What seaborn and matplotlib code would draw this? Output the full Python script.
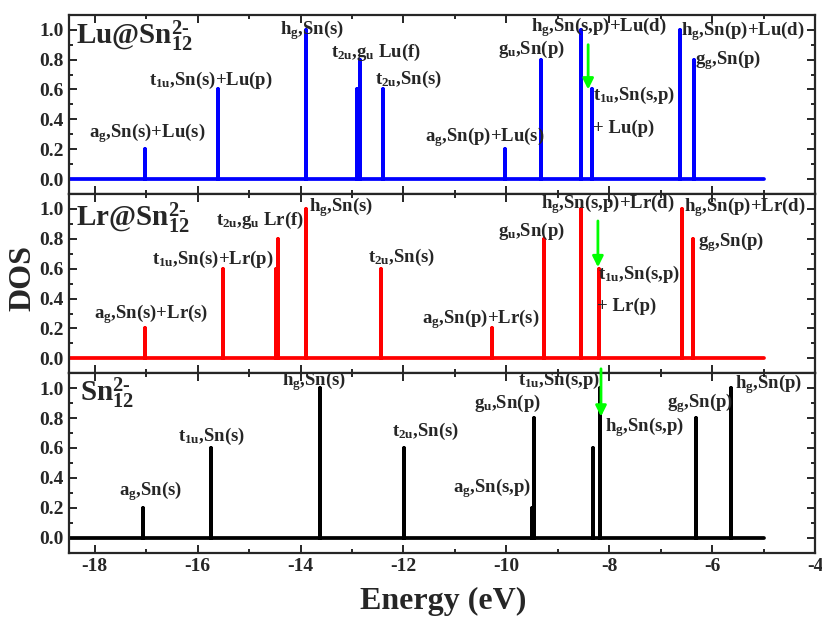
import numpy as np
import pandas as pd
import matplotlib
matplotlib.use("Agg")
import matplotlib.pyplot as plt
from matplotlib.ticker import MultipleLocator, FormatStrFormatter
import seaborn as sns

# ---------------- data ----------------
E_MIN, E_MAX = -18.5, -5.0

lu_energy = [-17.02, -15.61, -13.90, -12.91, -12.84, -12.39, -10.03, -9.32, -8.55, -8.33, -6.63, -6.36]
lu_dos    = [0.2,    0.6,    1.0,    0.6,    0.8,    0.6,    0.2,    0.8,   1.0,   0.6,   1.0,   0.8]

lr_energy = [-17.03, -15.50, -14.48, -14.44, -13.89, -12.44, -10.27, -9.27, -8.55, -8.20, -6.59, -6.37]
lr_dos    = [0.2,    0.6,    0.6,    0.8,    1.0,    0.6,    0.2,    0.8,   1.0,   0.6,   1.0,   0.8]

sn_energy = [-17.06, -15.75, -13.62, -11.98, -9.51, -9.47, -8.31, -8.18, -6.31, -5.63]
sn_dos    = [0.2,    0.6,    1.0,    0.6,    0.2,   0.8,   0.6,   1.0,   0.8,   1.0]

panel_titles = [r"Lu@$\mathbf{Sn}_{\mathbf{12}}^{\mathbf{2}\text{-}}$",
                r"Lr@$\mathbf{Sn}_{\mathbf{12}}^{\mathbf{2}\text{-}}$",
                r"$\mathbf{Sn}_{\mathbf{12}}^{\mathbf{2}\text{-}}$"]

lu_labels = [r"a$_\mathrm{g}$,Sn(s)+Lu(s)", r"t$_\mathrm{1u}$,Sn(s)+Lu(p)", r"h$_\mathrm{g}$,Sn(s)",
             r"t$_\mathrm{2u}$,g$_\mathrm{u}$ Lu(f)", r"t$_\mathrm{2u}$,Sn(s)", r"a$_\mathrm{g}$,Sn(p)+Lu(s)",
             r"g$_\mathrm{u}$,Sn(p)", r"h$_\mathrm{g}$,Sn(s,p)+Lu(d)", r"t$_\mathrm{1u}$,Sn(s,p)", "+ Lu(p)",
             r"h$_\mathrm{g}$,Sn(p)+Lu(d)", r"g$_\mathrm{g}$,Sn(p)"]
lr_labels = [r"a$_\mathrm{g}$,Sn(s)+Lr(s)", r"t$_\mathrm{1u}$,Sn(s)+Lr(p)", r"t$_\mathrm{2u}$,g$_\mathrm{u}$ Lr(f)",
             r"h$_\mathrm{g}$,Sn(s)", r"t$_\mathrm{2u}$,Sn(s)", r"a$_\mathrm{g}$,Sn(p)+Lr(s)",
             r"g$_\mathrm{u}$,Sn(p)", r"h$_\mathrm{g}$,Sn(s,p)+Lr(d)", r"t$_\mathrm{1u}$,Sn(s,p)", "+ Lr(p)",
             r"h$_\mathrm{g}$,Sn(p)+Lr(d)", r"g$_\mathrm{g}$,Sn(p)"]
sn_labels = [r"a$_\mathrm{g}$,Sn(s)", r"t$_\mathrm{1u}$,Sn(s)", r"h$_\mathrm{g}$,Sn(s)", r"t$_\mathrm{2u}$,Sn(s)",
             r"a$_\mathrm{g}$,Sn(s,p)", r"g$_\mathrm{u}$,Sn(p)", r"t$_\mathrm{1u}$,Sn(s,p)",
             r"h$_\mathrm{g}$,Sn(s,p)", r"g$_\mathrm{g}$,Sn(p)", r"h$_\mathrm{g}$,Sn(p)"]

# ---------------- layout (label anchor positions, left-center) ----------------
lu_pos = [(-18.11, 0.31), (-16.94, 0.66), (-14.40, 1.00), (-13.40, 0.85), (-12.55, 0.67), (-11.59, 0.28),
          (-10.17, 0.87), (-9.53, 1.02), (-8.32, 0.56), (-8.32, 0.34), (-6.61, 0.99), (-6.33, 0.80)]
lr_pos = [(-18.01, 0.295), (-16.88, 0.66), (-15.64, 0.92), (-13.84, 1.01), (-12.68, 0.675), (-11.63, 0.26),
          (-10.17, 0.85), (-9.32, 1.03), (-8.22, 0.56), (-8.24, 0.35), (-6.54, 1.01), (-6.27, 0.78)]
sn_pos = [(-17.53, 0.31), (-16.39, 0.68), (-14.36, 1.05), (-12.22, 0.71), (-11.04, 0.33), (-10.62, 0.90),
          (-9.77, 1.05), (-8.08, 0.74), (-6.87, 0.90), (-5.55, 1.03)]
title_pos = [(-18.36, 0.96), (-18.36, 0.94), (-18.29, 0.97)]
arrows = [((-8.41, 0.90), (-8.41, 0.60)),
          ((-8.22, 0.92), (-8.22, 0.61)),
          ((-8.16, 1.13), (-8.16, 0.81))]

colors = ["#0000ff", "#ff0000", "#000000"]

# ---------------- style ----------------
sns.set_style("ticks")
plt.rcParams.update({
    "font.family": ["Liberation Serif", "DejaVu Serif"],
    "font.weight": "bold",
    "mathtext.fontset": "custom",
    "mathtext.rm": "Liberation Serif",
    "mathtext.it": "Liberation Serif:italic",
    "mathtext.bf": "Liberation Serif:bold",
    "axes.linewidth": 1.6,
    "xtick.direction": "in",
    "ytick.direction": "in",
})

fig, axes = plt.subplots(3, 1, figsize=(8.22, 6.17), dpi=100, sharex=True)
fig.subplots_adjust(left=0.084, right=0.9915, top=0.976, bottom=0.1045, hspace=0)

def spectrum(energy, dos):
    xs, ys = [E_MIN], [0.0]
    for e, h in sorted(zip(energy, dos)):
        xs += [e, e, e]
        ys += [0.0, h, 0.0]
    xs.append(E_MAX)
    ys.append(0.0)
    return pd.DataFrame({"Energy": xs, "DOS": ys})

datasets = [(lu_energy, lu_dos, lu_labels, lu_pos),
            (lr_energy, lr_dos, lr_labels, lr_pos),
            (sn_energy, sn_dos, sn_labels, sn_pos)]

for i, (ax, (en, ds, labs, pos)) in enumerate(zip(axes, datasets)):
    df = spectrum(en, ds)
    sns.lineplot(data=df, x="Energy", y="DOS", sort=False, estimator=None,
                 color=colors[i], lw=2.7, ax=ax)
    ax.set_xlim(-18.5, -4.0)
    ax.set_ylim(-0.1, 1.1)
    ax.xaxis.set_major_locator(MultipleLocator(2))
    ax.xaxis.set_minor_locator(MultipleLocator(1))
    ax.yaxis.set_major_locator(MultipleLocator(0.2))
    ax.yaxis.set_minor_locator(MultipleLocator(0.1))
    ax.yaxis.set_major_formatter(FormatStrFormatter("%.1f"))
    ax.xaxis.set_major_formatter(FormatStrFormatter("%d"))
    ax.tick_params(which="both", top=True, right=True, direction="in", width=1.4)
    ax.tick_params(which="major", length=5.5, labelsize=14, pad=4)
    ax.tick_params(which="minor", length=3)
    ax.set_xlabel("")
    ax.set_ylabel("")
    for s, (x, y) in zip(labs, pos):
        ax.text(x, y, s, ha="left", va="center", fontsize=13.5, fontweight="bold",
                clip_on=False, zorder=5)
    tx, ty = title_pos[i]
    ax.text(tx, ty, panel_titles[i], ha="left", va="center", fontsize=21, fontweight="bold")
    (x0, y0), (x1, y1) = arrows[i]
    ax.annotate("", xy=(x1, y1), xytext=(x0, y0), annotation_clip=False,
                arrowprops=dict(arrowstyle="-|>", color="#00ff00", lw=2, mutation_scale=16,
                                shrinkA=0, shrinkB=0), zorder=6)

fig.canvas.draw()
for ax in axes:
    plt.setp(ax.get_yticklabels(), fontweight="bold")
    plt.setp(ax.get_xticklabels(), fontweight="bold")

fig.text(0.028, 0.549, "DOS", rotation=90, ha="center", va="center", fontsize=23, fontweight="bold")
fig.text(0.539, 0.025, "Energy (eV)", ha="center", va="center", fontsize=23, fontweight="bold")

fig.savefig("out.png", dpi=100)
